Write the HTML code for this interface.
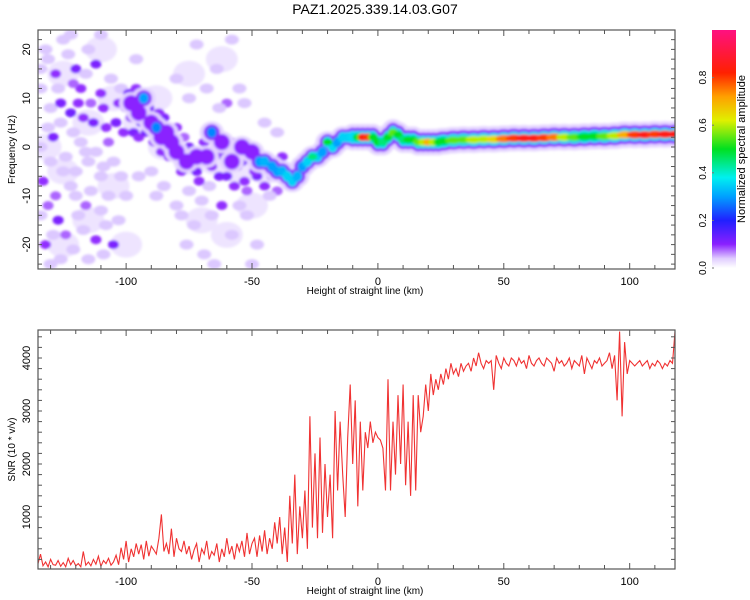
<!DOCTYPE html>
<html><head><meta charset="utf-8"><style>
body{margin:0;background:#fff;}
svg{display:block;font-family:"Liberation Sans",sans-serif;}
</style></head><body>
<svg id="c" width="750" height="600" viewBox="0 0 750 600">
<defs>
<clipPath id="cp1"><rect x="38" y="30" width="637" height="239"/></clipPath>
<clipPath id="cp2"><rect x="38" y="330" width="637" height="239"/></clipPath>
<filter id="bl" x="-20%" y="-20%" width="140%" height="140%"><feGaussianBlur stdDeviation="1.3"/></filter>
<linearGradient id="cbg" x1="0" y1="1" x2="0" y2="0">
<stop offset="0" stop-color="#ffffff"/><stop offset="0.04" stop-color="#e0ccff"/><stop offset="0.1" stop-color="#8a20ff"/>
<stop offset="0.2" stop-color="#2020ff"/><stop offset="0.3" stop-color="#00a0ff"/><stop offset="0.38" stop-color="#00f0f0"/>
<stop offset="0.5" stop-color="#00e020"/><stop offset="0.62" stop-color="#e0f000"/><stop offset="0.72" stop-color="#ffa000"/>
<stop offset="0.82" stop-color="#ff2000"/><stop offset="1" stop-color="#ff1080"/>
</linearGradient>
</defs>
<text x="375" y="14" text-anchor="middle" font-size="14">PAZ1.2025.339.14.03.G07</text>
<g id="heat" clip-path="url(#cp1)"></g>
<g id="ax1"></g>
<rect x="712" y="30" width="24" height="238" fill="url(#cbg)"/>
<g id="cb"></g>
<text transform="translate(745,149) rotate(-90)" text-anchor="middle" font-size="11">Normalized spectral amplitude</text>
<g id="line2" clip-path="url(#cp2)"></g>
<g id="ax2"></g>
</svg>
<script>
const snrX0 = -135;
const snrValues = [
120,300,80,150,60,200,100,90,180,70,
140,60,220,100,180,80,120,60,350,90,
150,80,200,110,260,70,180,120,220,90,
150,280,100,420,200,550,150,400,250,500,
300,480,200,550,260,450,380,300,600,1050,
350,500,300,780,250,600,400,350,550,300,
450,200,380,500,150,400,300,550,200,350,
280,500,150,400,250,600,300,450,200,500,
350,550,250,700,300,500,600,250,650,350,
750,300,600,400,900,500,1000,300,800,150,
1400,500,1800,300,1200,600,1500,400,2900,800,
2200,600,2500,700,2000,1000,1800,600,3000,1500,
2800,1800,1000,2500,3500,2000,3200,1200,2800,1500,
2600,2300,2800,2400,2600,2500,2450,2300,1500,3600,
1500,2800,1800,3300,2000,3500,1600,2800,1400,3300,
1500,3300,2600,2900,3500,3000,3700,3300,3600,3400,
3700,3500,3800,3600,3900,3700,3800,3650,3900,3750,
3850,3900,3750,4000,3850,4100,3900,3800,3950,3900,
3950,3400,4050,3900,3800,4000,3900,3850,4000,3950,
3850,4000,3900,3950,3800,4050,3900,3850,3950,4000,
3900,3850,4000,3950,3900,3750,4000,3900,3950,3850,
3900,4000,3800,3950,3900,3850,4050,3700,4000,3900,
3800,3950,3900,4000,3850,3900,3950,4100,3800,4050,
3200,4500,2900,4300,3700,3950,3900,3850,3900,3950,
3850,3900,3950,3800,3900,3850,3950,3900,3800,3900,
3850,3950,3900,4500];
const ridgeX = [-98,-95,-93,-90,-88,-86,-84,-82,-80,-76,-72,-68,-66,-62,-58,-54,-50,-47,-45,-42,-40,-38,-36,-34,-32,-30,-28,-26,-24,-22,-20,-18,-16,-14,-12,-10,-8,-6,-4,-2,0,2,4,6,8,10,12,14,16,18,20,22,24,26,30,34,38,42,46,50,54,58,62,66,70,74,78,82,86,90,94,98,102,106,110,114,118];
const ridgeF = [9,7,10,5,4,2,3,1,-1,-3,-2,-2,3,1,-3,0,-1,-3,-3,-4,-5,-5,-6,-7,-6,-4,-3,-2,-2,-1,1,0,1,2,2,2,2,2,2,2,1,1,2,3,2.5,1.5,1.5,1.5,1,1,1,1,1,1.2,1.4,1.5,1.5,1.6,1.6,1.7,1.8,1.8,1.8,1.9,2,2,2,2.1,2.2,2.2,2.3,2.5,2.5,2.5,2.6,2.6,2.6];
const ridgeA = [.13,.15,.3,.15,.28,.15,.13,.15,.2,.13,.15,.13,.28,.13,.13,.15,.2,.3,.32,.3,.3,.32,.35,.35,.32,.3,.35,.45,.35,.3,.5,.4,.3,.35,.35,.4,.5,.85,.8,.5,.5,.45,.5,.55,.5,.45,.5,.5,.55,.6,.7,.6,.5,.5,.55,.55,.6,.6,.65,.75,.8,.85,.85,.8,.75,.6,.55,.5,.5,.55,.6,.7,.8,.85,.8,.85,.85];
const hazeX = [-125,-115,-125,-115,-125,-105,-105,-95,-85,-75,-65,-55,-45,-70,-60,-75,-62,-132,-110,-100,-88,-50];
const hazeF = [15,5,-5,-15,-20,10,-8,5,0,-3,-3,-5,-5,-15,-18,15,18,0,20,-20,10,-12];
const blobX = [-132,-128,-125,-120,-118,-115,-112,-110,-106,-130,-126,-122,-117,-113,-108,-104,-134,-129,-124,-118,-112,-105,-133,-128,-122,-116,-110,-127,-124,-119,-112,-105,-132,-130,-115,-108,-100,-102,-96,-134,-130,-120,-115,
-100,-97,-94,-91,-89,-85,-83,-80,-78,-75,-72,-70,-66,-63,-61,-58,-56,-53,-50,-48,-45,-42,-40,-38,-62,-60,-67,-75,-80,-85,-90,
-73,-69,-58,-52,-48,-64,-58,-72,-80,-55,-45,-40,-65,-76,-50,
-131,-127,-123,-121,-119,-116,-114,-109,-107,-103,-101,-99,-96,-131,-126,-121,-116,-109,-131,-125,-120,-114,-107,-102,-129,-121,-117,-110,-103,-126,-109,-134,-134,-122,-110,
-98,-95,-92,-87,-86,-82,-79,-77,-74,-71,-69,-64,-60,-57,-54,-52,-49,-46,-43,-41,-55,-66,-70,-78,-88,-95,-63,-68,-75,-53];
const blobF = [20,15,22,16,12,20,17,11,14,8,9,7,6,5,4,5,0,2,-2,1,-1,-3,-7,-10,-8,-12,-6,-15,-18,-14,-19,-20,-20,-24,-23,-16,-10,12,18,12,-3,-5,-3,
8,3,5,8,1,6,-2,4,-5,0,-5,-1,-4,-6,-2,1,-4,-7,-2,-6,-8,-6,-9,-2,-12,9,-8,-9,-12,-8,-5,
-16,-22,-18,-14,-20,16,22,21,14,12,5,3,-24,-20,-24,
18,12,19,13,9,15,9,8,1,9,3,11,12,4,5,3,-1,-4,-12,-5,-10,-9,-10,-6,-18,-21,-17,-13,-15,-23,-22,-14,16,23,23,
6,2,3,7,-1,2,-2,2,-3,-7,1,-1,-6,-8,-3,-9,-5,-2,-10,-3,-12,-14,-11,-14,-10,-6,8,12,10,9];
const blobA = [.05,.1,.05,.12,.1,.06,.12,.1,.05,.06,.12,.13,.1,.12,.1,.12,.06,.12,.05,.06,.05,.06,.1,.08,.06,.08,.05,.12,.08,.06,.1,.12,.1,.06,.05,.05,.05,.05,.04,.05,.05,.05,.04,
.12,.12,.14,.12,.1,.12,.1,.1,.1,.12,.12,.12,.1,.12,.12,.1,.12,.1,.12,.12,.1,.12,.08,.1,.1,.08,.06,.05,.05,.04,.04,
.04,.05,.05,.04,.04,.04,.05,.04,.04,.04,.04,.03,.04,.04,.04,
.04,.06,.04,.08,.1,.04,.08,.1,.08,.1,.1,.12,.1,.04,.05,.04,.04,.04,.08,.05,.04,.05,.04,.04,.06,.05,.05,.05,.04,.04,.06,.05,.04,.04,.04,
.1,.1,.12,.1,.1,.12,.1,.08,.1,.1,.1,.1,.12,.1,.12,.08,.1,.12,.06,.1,.05,.05,.05,.04,.04,.04,.05,.04,.04,.04];
const xTicks1 = [-100,-50,0,50,100];
const yTicks1 = [20,10,0,-10,-20];
const yTicks2 = [1000,2000,3000,4000];
const cbTicks = [0.0,0.2,0.4,0.6,0.8];

const NS='http://www.w3.org/2000/svg';
function mk(tag,attrs,parent){const e=document.createElementNS(NS,tag);for(const k in attrs)e.setAttribute(k,attrs[k]);parent.appendChild(e);return e;}
const X=v=>38+(v+135)*(637/253);
const Y1=f=>147-f*4.88;
const Y2=s=>570-s*0.053;
const CB=a=>268-a*238/1.0;
const stops=[[0,[255,255,255]],[.04,[224,204,255]],[.1,[138,32,255]],[.2,[32,32,255]],[.3,[0,160,255]],[.38,[0,240,240]],[.5,[0,224,32]],[.62,[224,240,0]],[.72,[255,160,0]],[.82,[255,32,0]],[1,[255,16,128]]];
function cmap(a){for(let i=1;i<stops.length;i++){if(a<=stops[i][0]){const[t0,c0]=stops[i-1],[t1,c1]=stops[i];const t=(a-t0)/(t1-t0);return 'rgb('+c0.map((v,j)=>Math.round(v+(c1[j]-v)*t)).join(',')+')';}}return 'rgb(255,16,128)';}

const heat=document.getElementById('heat');
const hg=mk('g',{filter:'url(#bl)'},heat);
for(let i=0;i<hazeX.length;i++){
  const e=mk('ellipse',{cx:X(hazeX[i]),cy:Y1(hazeF[i]),rx:16,ry:13,fill:'#eee4ff'},hg);
  
  
}
for(let i=0;i<blobX.length;i++){
  const a=blobA[i];
  const light=a<.07;
  const e=mk('ellipse',{cx:X(blobX[i]),cy:Y1(blobF[i]),rx:light?7:5.5,ry:light?5:4.5,fill:light?'#dcc8ff':cmap(a*0.95)},hg);
  
  
}
const layers=[[0,12,11,'#e4d4ff'],[0.1,8,8,'#8a20ff'],[0.28,5,5.5,null],[0.45,5,3.2,'top']];
layers.forEach(([th,rx,ry,col])=>{
  for(let i=0;i<ridgeX.length;i++){
    const a=ridgeA[i];
    if(a<th)continue;
    let fill=col;
    if(col===null)fill=cmap(Math.min(a,0.36));
    else if(col==='top')fill=cmap(a);
    const flat=ridgeX[i]>-12;
    const e=mk('ellipse',{cx:X(ridgeX[i]),cy:Y1(ridgeF[i]),rx:ridgeX[i]>24?rx*1.6:rx,ry:flat?ry*1.2:ry,fill:fill},hg);
    
    
  }
});

function axes(g,y0,y1,yt,Yf,yMinor,yMin,yMax,ylabel){
  mk('rect',{x:38,y:y0,width:637,height:y1-y0,fill:'none',stroke:'#555','stroke-width':1.2},g);
  for(let v=-130;v<=118;v+=10){const x=X(v);const L=v%50===0?6:4;
    mk('line',{x1:x,x2:x,y1:y1,y2:y1-L,stroke:'#555'},g);mk('line',{x1:x,x2:x,y1:y0,y2:y0+L,stroke:'#555'},g);}
  xTicks1.forEach(v=>{const t=mk('text',{x:X(v),y:y1+16,'text-anchor':'middle','font-size':11},g);t.textContent=v;
    });
  for(let v=yMin;v<=yMax;v+=yMinor){const y=Yf(v);if(y<y0||y>y1)continue;
    mk('line',{x1:38,x2:42,y1:y,y2:y,stroke:'#555'},g);mk('line',{x1:675,x2:671,y1:y,y2:y,stroke:'#555'},g);}
  yt.forEach(v=>{const y=Yf(v);const t=mk('text',{transform:`translate(30,${y}) rotate(-90)`,'text-anchor':'middle','font-size':11},g);t.textContent=v;
    });
  const xl=mk('text',{x:365,y:y1+25,'text-anchor':'middle','font-size':10},g);xl.textContent='Height of straight line (km)';
  
  const yl=mk('text',{transform:`translate(15,${(y0+y1)/2}) rotate(-90)`,'text-anchor':'middle','font-size':10},g);yl.textContent=ylabel;
  
}
axes(document.getElementById('ax1'),30,269,yTicks1,Y1,2,-24,24,'Frequency (Hz)');
axes(document.getElementById('ax2'),330,569,yTicks2,Y2,200,200,4400,'SNR (10 * v/v)');

const cb=document.getElementById('cb');
cbTicks.forEach(v=>{const y=CB(v);const t=mk('text',{transform:`translate(706,${y}) rotate(-90)`,'text-anchor':'middle','font-size':10},cb);t.textContent=v.toFixed(1);
  
  mk('line',{x1:712,x2:714,y1:y,y2:y,stroke:'#777'},cb);});

const pts=snrValues.map((s,i)=>X(snrX0+i).toFixed(1)+','+Y2(s).toFixed(1)).join(' ');
const pl=mk('polyline',{points:pts,fill:'none',stroke:'#f03232','stroke-width':1.1},document.getElementById('line2'));


</script>
</body></html>
